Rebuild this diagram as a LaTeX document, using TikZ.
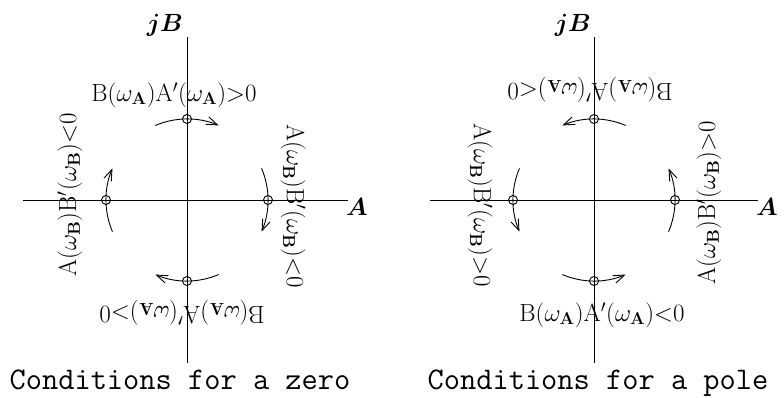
\documentclass[tikz,border=0pt]{standalone}
\usepackage{bm}
\usetikzlibrary{arrows.meta}
\newcommand{\labBA}[1]{$\mathrm{B}(\omega_{\mathbf{A}})\mathrm{A}'(\omega_{\mathbf{A}}){#1}0$}
\newcommand{\labAB}[1]{$\mathrm{A}(\omega_{\mathbf{B}})\mathrm{B}'(\omega_{\mathbf{B}}){#1}0$}
\begin{document}
\begin{tikzpicture}[x=1pt,y=1pt,
 ax/.style={line width=1pt},
 pt/.style={circle,draw,line width=0.9pt,minimum size=9pt,inner sep=0pt},
 sw/.style={line width=0.9pt,-{Straight Barb[length=11pt,width=8pt,line width=0.9pt]}},
 lbl/.style={font=\fontsize{24}{24}\selectfont,inner sep=0pt},
 axl/.style={font=\fontsize{25}{25}\selectfont,inner sep=0pt},
 capt/.style={font=\fontsize{31.5}{31.5}\selectfont\ttfamily,inner sep=0pt,anchor=base}]
\useasboundingbox (0,0) rectangle (784,397);
% ---------- zero diagram
\coordinate (O1) at (187,197);
\coordinate (V1t) at (187,360); \coordinate (V1b) at (187,34);
\coordinate (H1l) at (23,197); \coordinate (H1r) at (348,197);
\draw[ax] (V1t) -- (V1b);
\draw[ax] (H1l) -- (H1r);
\node[axl] (jB1) at (165,372) {$\bm{jB}$};
\node[axl] (A1) at (357,190) {$\bm{A}$};
\node[pt] (z1t) at (187,278) {};
\node[pt] (z1b) at (187,116) {};
\node[pt] (z1l) at (106,197) {};
\node[pt] (z1r) at (268,197) {};
\draw[sw] ([shift={(113:81)}]O1) arc[start angle=113,end angle=67,radius=81];
\draw[sw] ([shift={(23:81)}]O1) arc[start angle=23,end angle=-23,radius=81];
\draw[sw] ([shift={(-67:81)}]O1) arc[start angle=-67,end angle=-113,radius=81];
\draw[sw] ([shift={(203:81)}]O1) arc[start angle=203,end angle=157,radius=81];
\node[lbl] (z1lt) at (174,302) {\labBA{>}};
\node[lbl,rotate=180] (z1lb) at (182,84) {\labBA{>}};
\node[lbl,rotate=90] (z1ll) at (70,202) {\labAB{<}};
\node[lbl,rotate=-90] (z1lr) at (293,191) {\labAB{<}};
\node[capt] (cap1) at (180,8) {Conditions for a zero};
% ---------- pole diagram
\coordinate (O2) at (594,197);
\coordinate (V2t) at (594,360); \coordinate (V2b) at (594,34);
\coordinate (H2l) at (430,197); \coordinate (H2r) at (758,197);
\draw[ax] (V2t) -- (V2b);
\draw[ax] (H2l) -- (H2r);
\node[axl] (jB2) at (573,372) {$\bm{jB}$};
\node[axl] (A2) at (767,190) {$\bm{A}$};
\node[pt] (p2t) at (594,278) {};
\node[pt] (p2b) at (594,116) {};
\node[pt] (p2l) at (513,197) {};
\node[pt] (p2r) at (675,197) {};
\draw[sw] ([shift={(67:81)}]O2) arc[start angle=67,end angle=113,radius=81];
\draw[sw] ([shift={(-23:81)}]O2) arc[start angle=-23,end angle=23,radius=81];
\draw[sw] ([shift={(-113:81)}]O2) arc[start angle=-113,end angle=-67,radius=81];
\draw[sw] ([shift={(157:81)}]O2) arc[start angle=157,end angle=203,radius=81];
\node[lbl,rotate=180] (p2lt) at (590,307) {\labBA{<}};
\node[lbl] (p2lb) at (602,82) {\labBA{<}};
\node[lbl,rotate=-90] (p2ll) at (480,192) {\labAB{>}};
\node[lbl,rotate=90] (p2lr) at (709,194) {\labAB{>}};
\node[capt] (cap2) at (598,8) {Conditions for a pole};
\end{tikzpicture}
\end{document}
